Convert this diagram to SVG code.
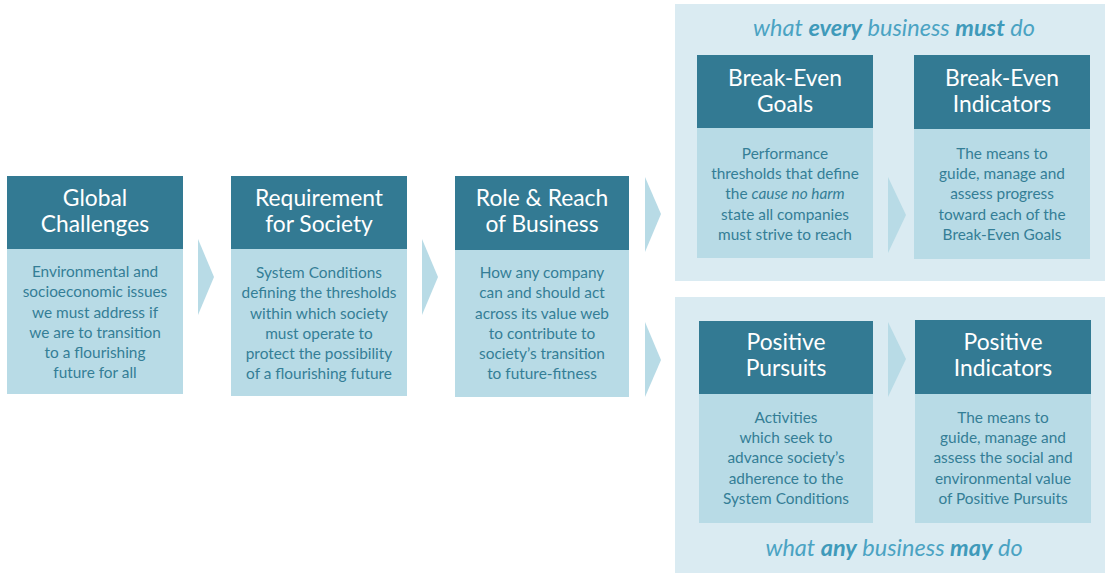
<svg xmlns="http://www.w3.org/2000/svg" width="1107" height="574" viewBox="0 0 1107 574">
<style>
.hd{fill:#337A93}
.bd{fill:#B8DBE6}
.pn{fill:#DAEBF2}
.chev{fill:#B8DBE6}
.ht{font-family:Lato,"Open Sans",sans-serif;font-size:22.8px;fill:#FFFFFF;text-anchor:middle}
.bt{font-family:Lato,"Open Sans",sans-serif;font-size:15.4px;fill:#347E96;text-anchor:middle}
.tt{font-family:Lato,"Open Sans",sans-serif;font-size:23.5px;font-style:italic;fill:#4BA3C3;text-anchor:middle}
.b{font-weight:bold;fill:#3F9ABA}
</style>
<rect width="1107" height="574" fill="#FFFFFF"/>
<g id="panel-must">
<rect class="pn" x="675" y="4" width="430" height="277"/>
<text class="tt" x="894" y="36">what <tspan class="b">every</tspan> business <tspan class="b">must</tspan> do</text>
</g>
<g id="panel-may">
<rect class="pn" x="675" y="297" width="430" height="276"/>
<text class="tt" x="894" y="556">what <tspan class="b">any</tspan> business <tspan class="b">may</tspan> do</text>
</g>
<g id="connectors">
<polygon class="chev" points="198,239 214,277 198,315"/>
<polygon class="chev" points="422,239 438,277 422,315"/>
<polygon class="chev" points="645,177 661,214 645,252"/>
<polygon class="chev" points="645,322 661,360 645,397"/>
<polygon class="chev" points="888,177 906,215 888,253"/>
<polygon class="chev" points="888,322 906,359 888,397"/>
</g>
<g id="global-challenges">
<rect class="hd" x="7" y="176" width="176" height="73"/>
<rect class="bd" x="7" y="249" width="176" height="145"/>
<text class="ht" x="95" y="206">Global</text>
<text class="ht" x="95" y="232">Challenges</text>
<text class="bt" x="95" y="277">Environmental and</text>
<text class="bt" x="95" y="297">socioeconomic issues</text>
<text class="bt" x="95" y="318">we must address if</text>
<text class="bt" x="95" y="338">we are to transition</text>
<text class="bt" x="95" y="358">to a flourishing</text>
<text class="bt" x="95" y="378">future for all</text>
</g>
<g id="requirement-for-society">
<rect class="hd" x="231" y="176" width="176" height="73"/>
<rect class="bd" x="231" y="249" width="176" height="147"/>
<text class="ht" x="319" y="206">Requirement</text>
<text class="ht" x="319" y="232">for Society</text>
<text class="bt" x="319" y="278">System Conditions</text>
<text class="bt" x="319" y="298">defining the thresholds</text>
<text class="bt" x="319" y="319">within which society</text>
<text class="bt" x="319" y="339">must operate to</text>
<text class="bt" x="319" y="359">protect the possibility</text>
<text class="bt" x="319" y="379">of a flourishing future</text>
</g>
<g id="role-reach-business">
<rect class="hd" x="455" y="176" width="174" height="74"/>
<rect class="bd" x="455" y="250" width="174" height="147"/>
<text class="ht" x="542" y="206">Role &amp; Reach</text>
<text class="ht" x="542" y="232">of Business</text>
<text class="bt" x="542" y="278">How any company</text>
<text class="bt" x="542" y="298">can and should act</text>
<text class="bt" x="542" y="319">across its value web</text>
<text class="bt" x="542" y="339">to contribute to</text>
<text class="bt" x="542" y="359">society’s transition</text>
<text class="bt" x="542" y="379">to future-fitness</text>
</g>
<g id="break-even-goals">
<rect class="hd" x="697" y="55" width="176" height="73"/>
<rect class="bd" x="697" y="128" width="176" height="130"/>
<text class="ht" x="785" y="86">Break-Even</text>
<text class="ht" x="785" y="112">Goals</text>
<text class="bt" x="785" y="159">Performance</text>
<text class="bt" x="785" y="179">thresholds that define</text>
<text class="bt" x="785" y="199">the <tspan font-style="italic">cause no harm</tspan></text>
<text class="bt" x="785" y="220">state all companies</text>
<text class="bt" x="785" y="240">must strive to reach</text>
</g>
<g id="break-even-indicators">
<rect class="hd" x="914" y="55" width="176" height="74"/>
<rect class="bd" x="914" y="129" width="176" height="130"/>
<text class="ht" x="1002" y="86">Break-Even</text>
<text class="ht" x="1002" y="112">Indicators</text>
<text class="bt" x="1002" y="159">The means to</text>
<text class="bt" x="1002" y="179">guide, manage and</text>
<text class="bt" x="1002" y="199">assess progress</text>
<text class="bt" x="1002" y="220">toward each of the</text>
<text class="bt" x="1002" y="240">Break-Even Goals</text>
</g>
<g id="positive-pursuits">
<rect class="hd" x="699" y="321" width="174" height="73"/>
<rect class="bd" x="699" y="394" width="174" height="129"/>
<text class="ht" x="786" y="350">Positive</text>
<text class="ht" x="786" y="376">Pursuits</text>
<text class="bt" x="786" y="423">Activities</text>
<text class="bt" x="786" y="443">which seek to</text>
<text class="bt" x="786" y="463">advance society’s</text>
<text class="bt" x="786" y="484">adherence to the</text>
<text class="bt" x="786" y="504">System Conditions</text>
</g>
<g id="positive-indicators">
<rect class="hd" x="915" y="320" width="176" height="74"/>
<rect class="bd" x="915" y="394" width="176" height="129"/>
<text class="ht" x="1003" y="350">Positive</text>
<text class="ht" x="1003" y="376">Indicators</text>
<text class="bt" x="1003" y="423">The means to</text>
<text class="bt" x="1003" y="443">guide, manage and</text>
<text class="bt" x="1003" y="463">assess the social and</text>
<text class="bt" x="1003" y="484">environmental value</text>
<text class="bt" x="1003" y="504">of Positive Pursuits</text>
</g>
</svg>
